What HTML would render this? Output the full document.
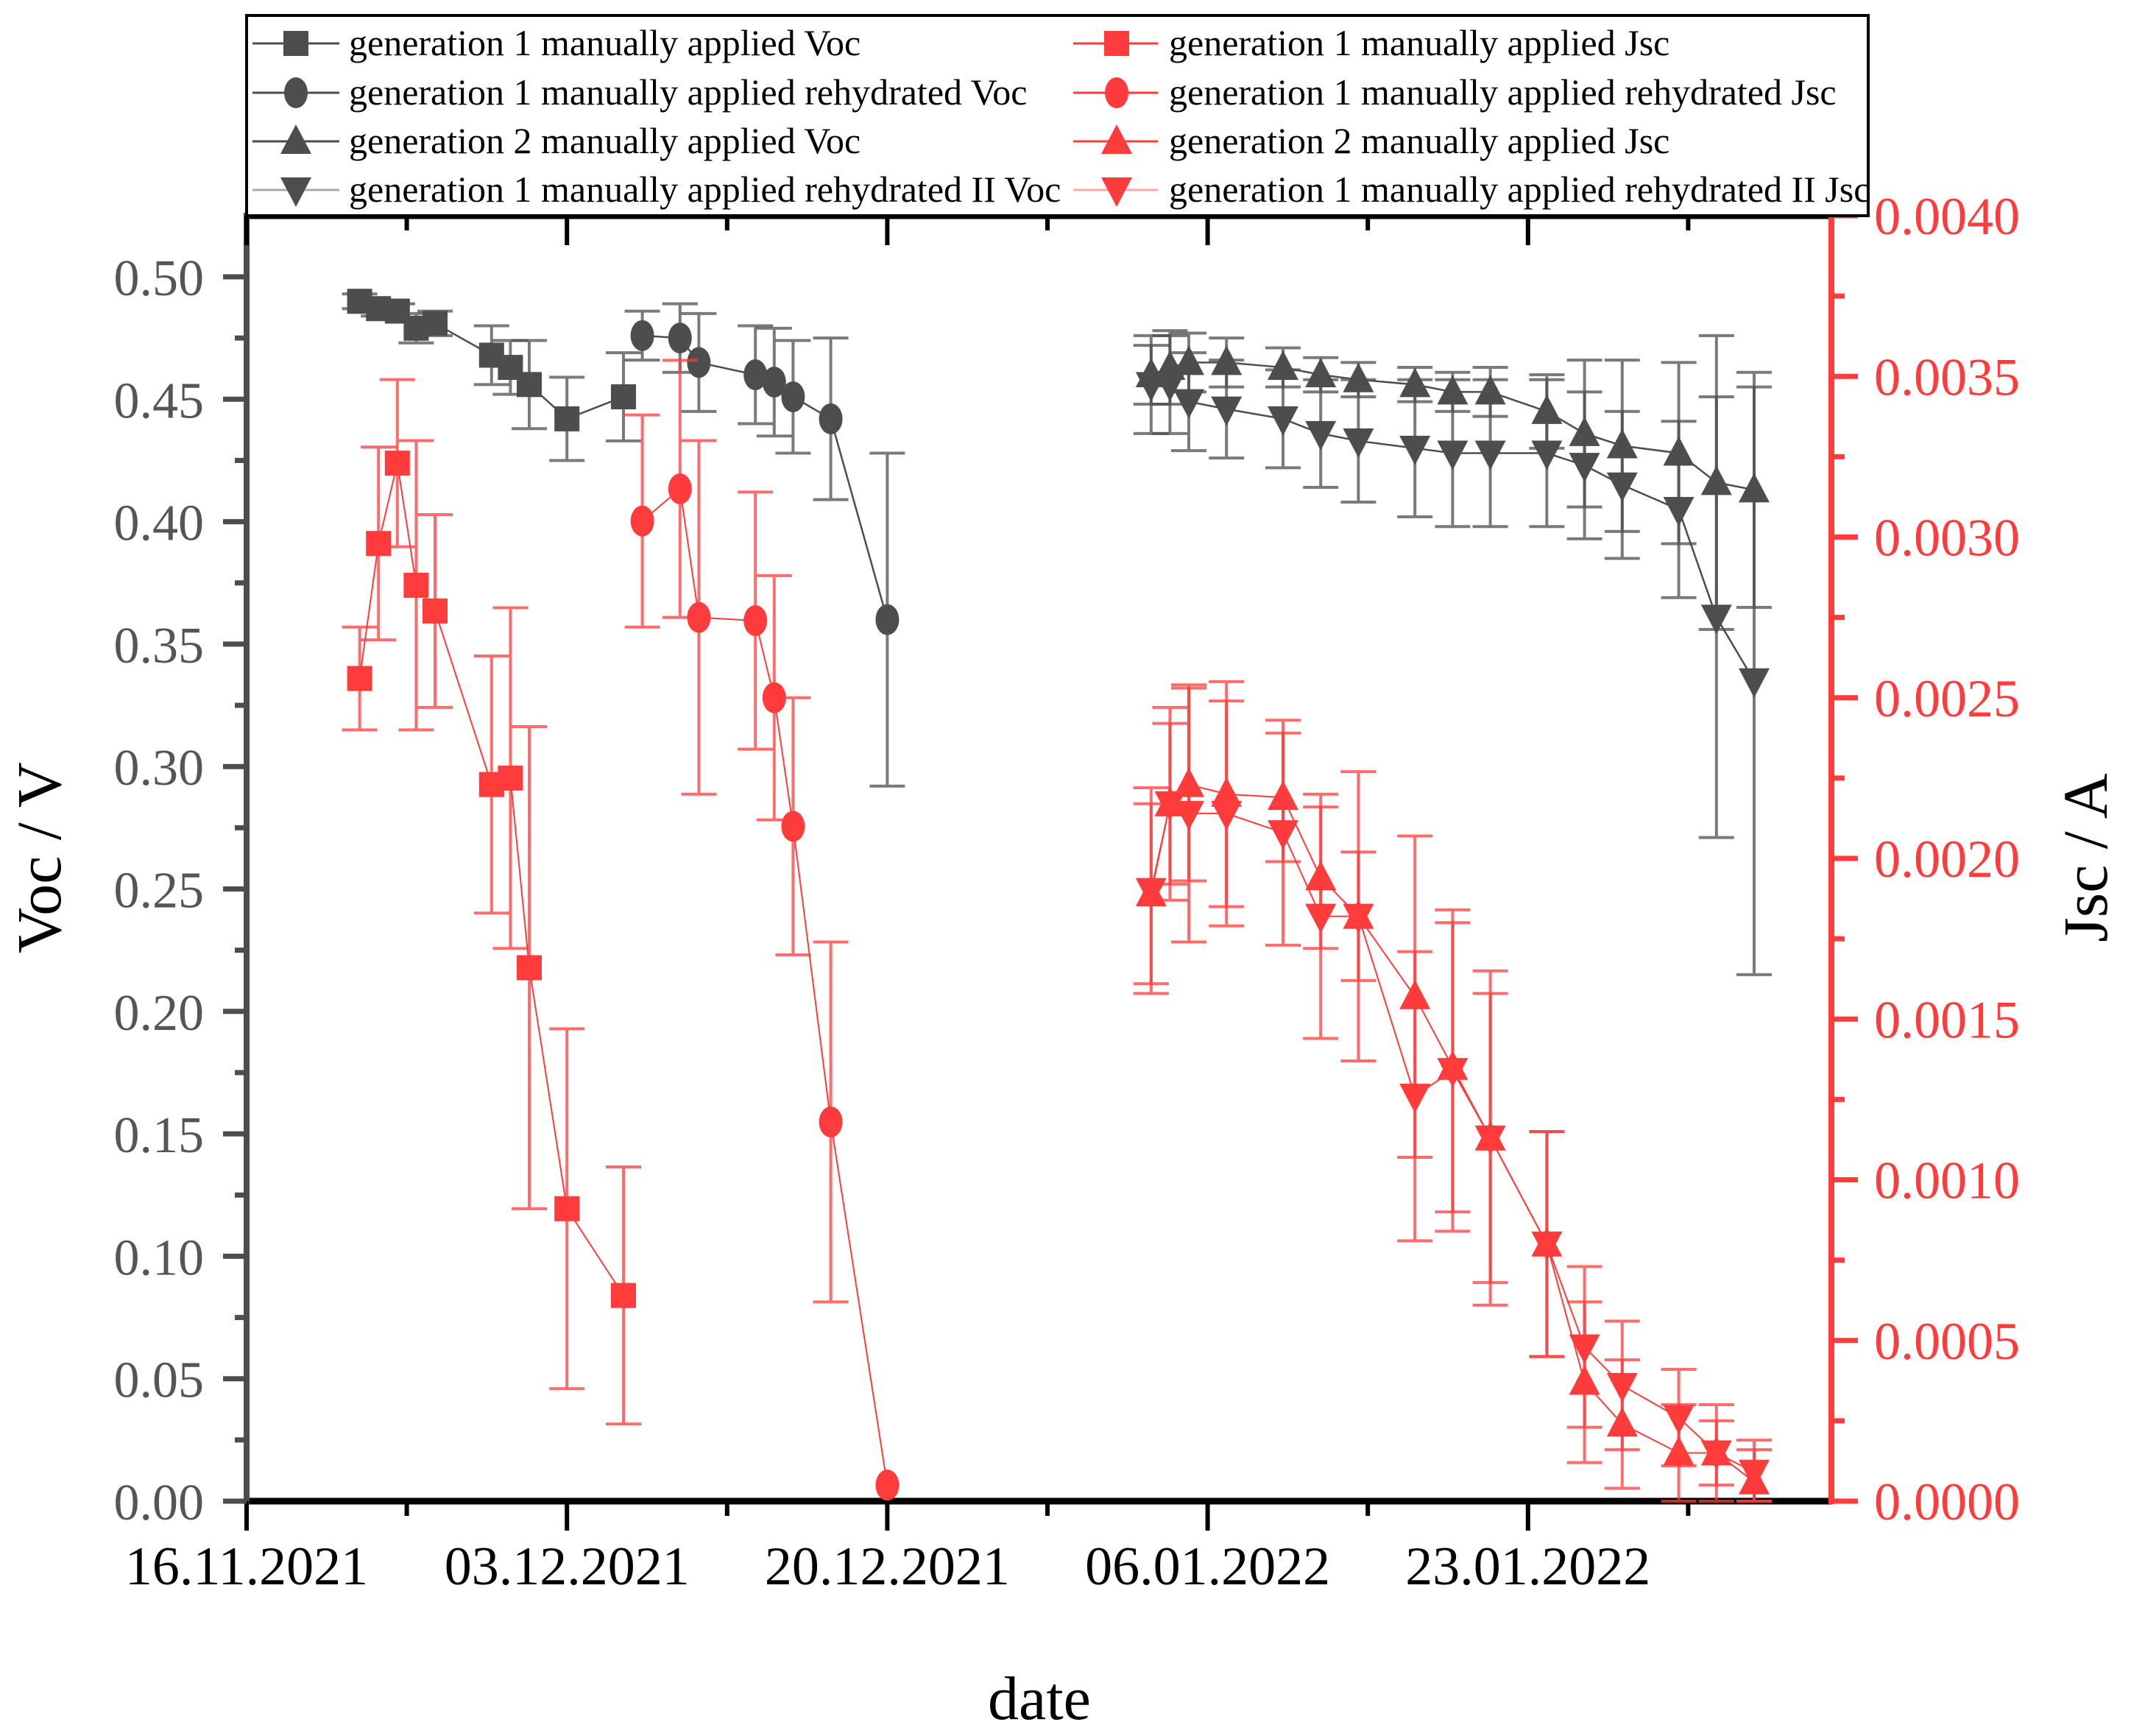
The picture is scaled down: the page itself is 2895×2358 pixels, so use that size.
<!DOCTYPE html>
<html><head><meta charset="utf-8"><style>
html,body{margin:0;padding:0;background:#fff;}
svg{display:block;font-family:"Liberation Serif",serif;}
</style></head><body>
<svg id="chart" width="2895" height="2358" viewBox="0 0 2895 2358" xmlns="http://www.w3.org/2000/svg">
<g id="grid-layer"></g>
</svg>
<script>
// ---- data (x in days since 16.11.2021) ----
const xTickLabels = ["16.11.2021","03.12.2021","20.12.2021","06.01.2022","23.01.2022"];
const vocTickLabels = ["0.00","0.05","0.10","0.15","0.20","0.25","0.30","0.35","0.40","0.45","0.50"];
const jscTickLabels = ["0.0000","0.0005","0.0010","0.0015","0.0020","0.0025","0.0030","0.0035","0.0040"];

const g1Days = [6,7,8,9,10,13,14,15,17,20];
const g1Voc = [0.490,0.487,0.486,0.479,0.481,0.468,0.463,0.456,0.442,0.451];
const g1VocErr = [0.003,0.003,0.003,0.006,0.005,0.012,0.011,0.018,0.017,0.018];
const g1Jsc = [0.00256,0.00298,0.00323,0.00285,0.00277,0.00223,0.00225,0.00166,0.00091,0.00064];
const g1JscErr = [0.00016,0.0003,0.00026,0.00045,0.0003,0.0004,0.00053,0.00075,0.00056,0.0004];

const r1Days = [21,23,24,27,28,29,31,34];
const r1Voc = [0.476,0.475,0.465,0.460,0.457,0.451,0.442,0.360];
const r1VocErr = [0.010,0.014,0.020,0.020,0.022,0.023,0.033,0.068];
const r1Jsc = [0.00305,0.00315,0.00275,0.00274,0.0025,0.0021,0.00118,0.00005];
const r1JscErr = [0.00033,0.0004,0.00055,0.0004,0.00038,0.0004,0.00056,0];

const g2Days = [48,49,50,52,55,57,59,62,64,66,69,71,73,76,78,80];
const g2Voc = [0.460,0.463,0.465,0.465,0.463,0.460,0.458,0.456,0.453,0.453,0.445,0.436,0.431,0.428,0.416,0.413];
const g2VocErr = [0.012,0.015,0.012,0.010,0.008,0.007,0.007,0.007,0.008,0.010,0.015,0.030,0.035,0.037,0.060,0.048];
const g2Jsc = [0.00189,0.00217,0.00223,0.0022,0.00219,0.00194,0.00182,0.00157,0.00135,0.00113,0.0008,0.00037,0.00024,0.00015,0.00015,0.00006];
const g2JscErr = [0.00028,0.0003,0.0003,0.00035,0.0002,0.00022,0.0002,0.0005,0.00045,0.00045,0.00035,0.00025,0.0002,0.00015,0.00015,0.0001];

const r2Days = [48,49,50,52,55,57,59,62,64,66,69,71,73,76,78,80];
const r2Voc = [0.456,0.456,0.449,0.446,0.442,0.436,0.433,0.430,0.428,0.428,0.428,0.423,0.415,0.405,0.361,0.335];
const r2VocErr = [0.02,0.02,0.02,0.02,0.02,0.022,0.025,0.028,0.03,0.03,0.03,0.03,0.03,0.036,0.09,0.12];
const r2Jsc = [0.0019,0.00217,0.00214,0.00214,0.00208,0.00182,0.00182,0.00126,0.00134,0.00113,0.0008,0.00048,0.00036,0.00026,0.00015,0.00009];
const r2JscErr = [0.00032,0.00025,0.0004,0.00035,0.00035,0.00038,0.00045,0.00045,0.0005,0.00052,0.00035,0.00025,0.0002,0.00015,0.0001,0.0001];

// ---- layout ----
const L=335, R=2488, T=293, B=2039;
const PXDAY=25.6;
const X = d => L + d*PXDAY;
const YV = v => B - v*3326;
const YJ = j => B - j/0.004*(B-T);
const GREY="#4d4d4d", RED="#ff3b3b";
const svg=document.getElementById('chart');
const NS="http://www.w3.org/2000/svg";
function mk(tag,attrs,parent){const e=document.createElementNS(NS,tag);for(const k in attrs)e.setAttribute(k,attrs[k]);(parent||svg).appendChild(e);return e;}

let e;
e=mk('line',{x1:L,y1:T,x2:R,y2:T,stroke:'#000','stroke-width':9});


e=mk('line',{x1:L,y1:B,x2:R,y2:B,stroke:'#000','stroke-width':9});


e=mk('line',{x1:L,y1:T-4,x2:L,y2:B+4,stroke:GREY,'stroke-width':8});


e=mk('line',{x1:R,y1:T-4,x2:R,y2:B+4,stroke:RED,'stroke-width':8});



for(let i=0;i<=9;i++){
  const x=X(i*8.5), major=i%2===0;
  e=mk('line',{x1:x,y1:B,x2:x,y2:B+(major?40:20),stroke:'#000','stroke-width':6});
  
  
  e=mk('line',{x1:x,y1:T,x2:x,y2:T+(major?40:20),stroke:'#000','stroke-width':6});
  
  
}
xTickLabels.forEach((t,i)=>{
  e=mk('text',{x:X(i*17),y:2152,'text-anchor':'middle','font-size':74,fill:'#000'});
  e.textContent=t;
  
  
});
vocTickLabels.forEach((t,i)=>{
  const v=i*0.05;
  e=mk('line',{x1:L-32,y1:YV(v),x2:L,y2:YV(v),stroke:GREY,'stroke-width':7});
  
  
  if(i<10){
    e=mk('line',{x1:L-16,y1:YV(v+0.025),x2:L,y2:YV(v+0.025),stroke:GREY,'stroke-width':7});
    
    
  }
  e=mk('text',{x:277,y:YV(v)+25,'text-anchor':'end','font-size':70,fill:'#555'});
  e.textContent=t;
  
  
});
jscTickLabels.forEach((t,i)=>{
  const j=i*0.0005;
  e=mk('line',{x1:R,y1:YJ(j),x2:R+36,y2:YJ(j),stroke:RED,'stroke-width':7});
  
  
  if(i<8){
    e=mk('line',{x1:R,y1:YJ(j+0.00025),x2:R+18,y2:YJ(j+0.00025),stroke:RED,'stroke-width':7});
    
    
  }
  e=mk('text',{x:2546,y:YJ(j)+25,'font-size':72,fill:RED});
  e.textContent=t;
  
  
});
e=mk('text',{x:1412,y:2335,'text-anchor':'middle','font-size':84,fill:'#000'});
e.textContent='date';


e=mk('text',{x:0,y:0,'text-anchor':'middle','font-size':86,fill:'#000',transform:'translate(82,1165) rotate(-90)'});
e.textContent='Voc / V';


e=mk('text',{x:0,y:0,'text-anchor':'middle','font-size':86,fill:'#000',transform:'translate(2862,1165) rotate(-90)'});
e.textContent='Jsc / A';



function marker(shape,cx,cy,color,parent){
  const s=19;let el;
  if(shape==='square') el=mk('rect',{x:cx-s+2,y:cy-s+2,width:2*s-4,height:2*s-4,fill:color},parent);
  else if(shape==='circle') el=mk('ellipse',{cx:cx,cy:cy,rx:s-3,ry:s+2,fill:color},parent);
  else if(shape==='up') el=mk('polygon',{points:`${cx-s-2},${cy+s-2} ${cx+s+2},${cy+s-2} ${cx},${cy-s-4}`,fill:color},parent);
  else el=mk('polygon',{points:`${cx-s-2},${cy-s+2} ${cx+s+2},${cy-s+2} ${cx},${cy+s+4}`,fill:color},parent);
  return el;
}
function series(name,days,vals,errs,yf,color,shape,w){
  const g=mk('g',{});
  
  
  days.forEach((d,i)=>{
    const x=X(d), y1=yf(vals[i]+errs[i]), y2=yf(Math.max(0,vals[i]-errs[i]));
    if(errs[i]>0){
      const eb=mk('path',{d:`M${x},${y1}V${y2}M${x-24},${y1}H${x+24}M${x-24},${y2}H${x+24}`,stroke:color,'stroke-width':4,fill:'none',opacity:0.75},g);
      
      
    }
  });
  const pl=mk('polyline',{points:days.map((d,i)=>X(d)+','+yf(vals[i])).join(' '),stroke:color,'stroke-width':w,fill:'none'},g);
  
  
  days.forEach((d,i)=>{
    const m=marker(shape,X(d),yf(vals[i]),color,g);
    
    
  });
}
series('gen1-voc-series',g1Days,g1Voc,g1VocErr,YV,GREY,'square',2.5);
series('gen1-rehydrated-voc-series',r1Days,r1Voc,r1VocErr,YV,GREY,'circle',2.5);
series('gen2-voc-series',g2Days,g2Voc,g2VocErr,YV,GREY,'up',2.5);
series('gen1-rehydrated2-voc-series',r2Days,r2Voc,r2VocErr,YV,GREY,'down',2.5);
series('gen1-jsc-series',g1Days,g1Jsc,g1JscErr,YJ,RED,'square',2);
series('gen1-rehydrated-jsc-series',r1Days,r1Jsc,r1JscErr,YJ,RED,'circle',2);
series('gen2-jsc-series',g2Days,g2Jsc,g2JscErr,YJ,RED,'up',2);
series('gen1-rehydrated2-jsc-series',r2Days,r2Jsc,r2JscErr,YJ,RED,'down',2);

const legendLabels=["generation 1 manually applied Voc","generation 1 manually applied rehydrated Voc","generation 2 manually applied Voc","generation 1 manually applied rehydrated II Voc"];
const legendLabelsJ=["generation 1 manually applied Jsc","generation 1 manually applied rehydrated Jsc","generation 2 manually applied Jsc","generation 1 manually applied rehydrated II Jsc"];
const shapes=['square','circle','up','down'];
const lg=mk('g',{});


e=mk('rect',{x:335,y:21,width:2203,height:272,fill:'#fff',stroke:'#000','stroke-width':4},lg);


const rowsY=[59,126,192,258];
rowsY.forEach((y,i)=>{
  e=mk('line',{x1:343,y1:y,x2:461,y2:y,stroke:i===3?'#aaa':GREY,'stroke-width':3},lg);
  
  
  e=marker(shapes[i],402,y,GREY,lg);
  
  
  e=mk('text',{x:474,y:y+16,'font-size':50,fill:'#000'},lg);
  e.textContent=legendLabels[i];
  
  
  e=mk('line',{x1:1458,y1:y,x2:1573,y2:y,stroke:i===3?'#ffaaaa':RED,'stroke-width':3},lg);
  
  
  e=marker(shapes[i],1517,y,RED,lg);
  
  
  e=mk('text',{x:1588,y:y+16,'font-size':50,fill:'#000'},lg);
  e.textContent=legendLabelsJ[i];
  
  
});
</script>
</body></html>
